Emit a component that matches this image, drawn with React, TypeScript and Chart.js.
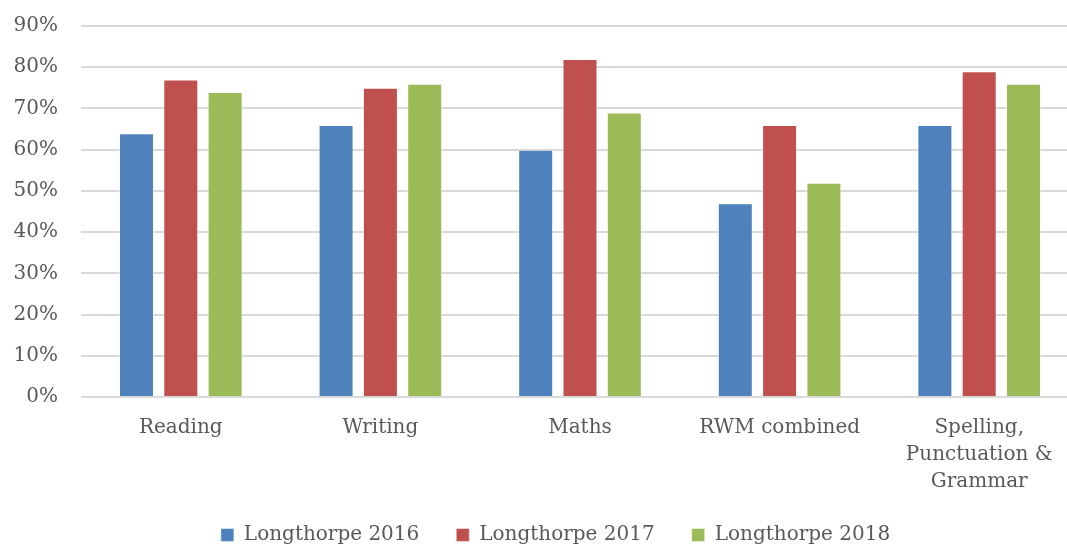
import React, { useEffect, useRef } from "react";
import { Chart, registerables } from "chart.js";

Chart.register(...registerables);

const categories: (string | string[])[] = [
  "Reading",
  "Writing",
  "Maths",
  "RWM combined",
  ["Spelling,", "Punctuation &", "Grammar"],
];
const seriesNames = ["Longthorpe 2016", "Longthorpe 2017", "Longthorpe 2018"];
const values2016 = [64, 66, 60, 47, 66];
const values2017 = [77, 75, 82, 66, 79];
const values2018 = [74, 76, 69, 52, 76];
const yTicks = [0, 10, 20, 30, 40, 50, 60, 70, 80, 90];

const COLORS = ["#4F81BD", "#C0504D", "#9BBB59"];
const FONT = "'DejaVu Serif', serif";

export default function App() {
  const ref = useRef<HTMLCanvasElement>(null);

  useEffect(() => {
    if (!ref.current) return;
    const data = [values2016, values2017, values2018];
    const chart = new Chart(ref.current, {
      type: "bar",
      data: {
        labels: categories,
        datasets: seriesNames.map((name, i) => ({
          label: name,
          data: data[i],
          backgroundColor: COLORS[i],
          borderColor: "rgba(255,255,255,0.45)",
          borderWidth: 1,
          categoryPercentage: 0.666,
          barPercentage: 0.79,
        })),
      },
      options: {
        animation: false,
        responsive: false,
        layout: { padding: { left: 32, right: 0, top: 26, bottom: 0 } },
        plugins: {
          tooltip: { enabled: false },
          legend: {
            position: "bottom",
            maxHeight: 59,
            labels: {
              boxWidth: 13,
              boxHeight: 13,
              padding: 37,
              color: "#595959",
              font: { family: FONT, size: 20 },
            },
          },
        },
        scales: {
          x: {
            grid: { display: false, drawTicks: false },
            border: { display: false },
            ticks: {
              color: "#595959",
              font: { family: FONT, size: 20, lineHeight: 1.35 },
              padding: 17,
              maxRotation: 0,
              autoSkip: false,
            },
            afterFit: (scale: any) => {
              scale.height = 91;
            },
          },
          y: {
            min: 0,
            max: 90,
            afterBuildTicks: (scale: any) => {
              scale.ticks = yTicks.map((v) => ({ value: v }));
            },
            grid: { color: "#D9D9D9", lineWidth: 2, drawTicks: false },
            border: { display: false },
            ticks: {
              color: "#595959",
              font: { family: FONT, size: 20 },
              padding: 23,
              callback: (v: any) => v + "%",
            },
            afterFit: (scale: any) => {
              scale.width = 49;
              scale.paddingTop = 0;
              scale.paddingBottom = 0;
              // let the tick labels extend left of the axis box without clipping
              scale._computeLabelArea = () => undefined;
            },
          },
        },
      },
    });
    return () => chart.destroy();
  }, []);

  return (
    <div
      style={{
        position: "absolute",
        left: 0,
        top: 0,
        width: 1067,
        height: 547,
        overflow: "hidden",
        background: "#fff",
      }}
    >
      <canvas ref={ref} width={1079} height={547} style={{ display: "block" }} />
    </div>
  );
}
